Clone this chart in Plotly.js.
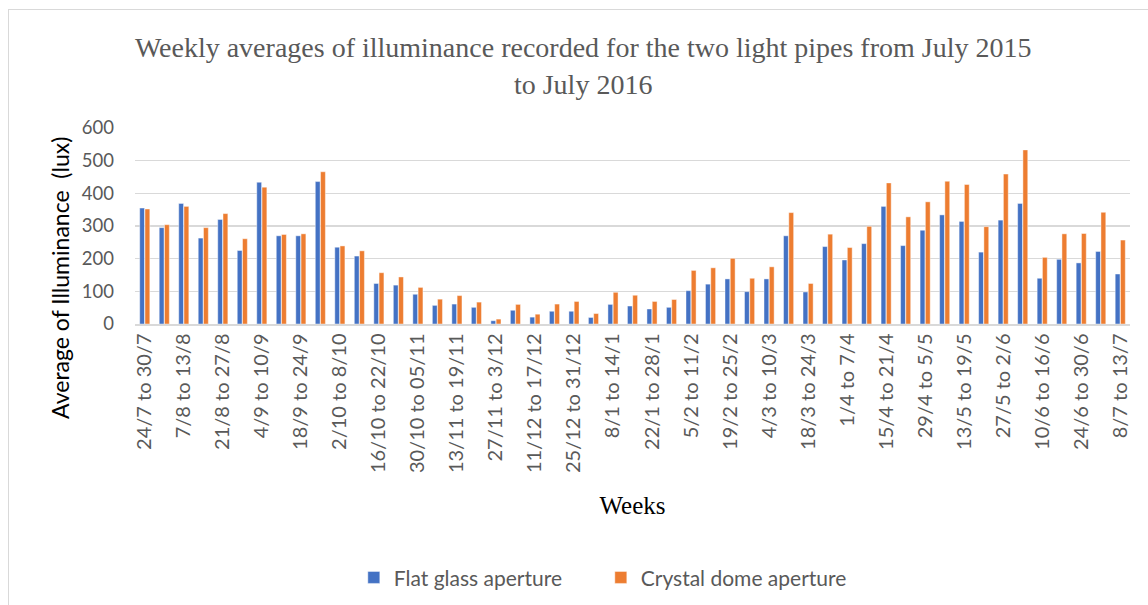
<!DOCTYPE html>
<html>
<head>
<meta charset="utf-8">
<script src="https://cdn.plot.ly/plotly-3.0.1.min.js"></script>
<style>
  html, body { margin: 0; padding: 0; background: #ffffff; overflow: hidden; }
  #wrap { position: relative; width: 1148px; height: 605px; overflow: hidden; }
  #chart { position: absolute; left: 0; top: 0; width: 1148px; height: 605px; }
  #frame { position: absolute; left: 8px; top: 9px; width: 1200px; height: 700px;
           border: 1px solid #d9d9d9; pointer-events: none; }
</style>
</head>
<body>
<div id="wrap">
  <div id="chart"></div>
  <div id="frame"></div>
</div>
<script>
// Week categories (51 weeks, July 2015 - July 2016)
const weeks = [
  "24/7 to 30/7", "31/7 to 6/8", "7/8 to 13/8", "14/8 to 20/8", "21/8 to 27/8",
  "28/8 to 3/9", "4/9 to 10/9", "11/9 to 17/9", "18/9 to 24/9", "25/9 to 1/10",
  "2/10 to 8/10", "9/10 to 15/10", "16/10 to 22/10", "23/10 to 29/10", "30/10 to 05/11",
  "6/11 to 12/11", "13/11 to 19/11", "20/11 to 26/11", "27/11 to 3/12", "4/12 to 10/12",
  "11/12 to 17/12", "18/12 to 24/12", "25/12 to 31/12", "1/1 to 7/1", "8/1 to 14/1",
  "15/1 to 21/1", "22/1 to 28/1", "29/1 to 4/2", "5/2 to 11/2", "12/2 to 18/2",
  "19/2 to 25/2", "26/2 to 3/3", "4/3 to 10/3", "11/3 to 17/3", "18/3 to 24/3",
  "25/3 to 31/3", "1/4 to 7/4", "8/4 to 14/4", "15/4 to 21/4", "22/4 to 28/4",
  "29/4 to 5/5", "6/5 to 12/5", "13/5 to 19/5", "20/5 to 26/5", "27/5 to 2/6",
  "3/6 to 9/6", "10/6 to 16/6", "17/6 to 23/6", "24/6 to 30/6", "1/7 to 7/7",
  "8/7 to 13/7"
];

// Flat glass aperture weekly averages (lux)
const flatGlass = [
  355, 295, 369, 263, 320, 225, 434, 270, 270, 436,
  235, 208, 124, 119, 91, 57, 61, 51, 10, 42,
  21, 39, 39, 20, 60, 55, 46, 51, 102, 122,
  138, 99, 138, 270, 98, 237, 196, 246, 360, 240,
  287, 334, 314, 220, 318, 369, 140, 198, 187, 222,
  153
];

// Crystal dome aperture weekly averages (lux)
const crystalDome = [
  352, 304, 360, 295, 338, 261, 419, 274, 276, 466,
  239, 224, 157, 144, 112, 76, 87, 67, 15, 60,
  30, 61, 69, 32, 97, 88, 69, 75, 164, 172,
  201, 140, 175, 341, 124, 275, 234, 299, 432, 328,
  374, 437, 427, 298, 459, 533, 204, 276, 277, 342,
  257
];

// Shown tick labels: every other week
const shownWeeks = weeks.filter((w, i) => i % 2 === 0);

const yTitle = "Average of Illuminance  (lux)";

const sansFont = "Lato, 'Open Sans', 'Liberation Sans', sans-serif";
const serifFont = "'Liberation Serif', 'DejaVu Serif', serif";

const traces = [
  {
    type: "bar",
    name: "Flat glass aperture",
    x: weeks,
    y: flatGlass,
    marker: { color: "#4472C4", line: { color: "rgba(255,255,255,0.55)", width: 0.8 } }
  },
  {
    type: "bar",
    name: "Crystal dome aperture",
    x: weeks,
    y: crystalDome,
    marker: { color: "#ED7D31", line: { color: "rgba(255,255,255,0.55)", width: 0.8 } }
  }
];

const layout = {
  width: 1148,
  height: 605,
  margin: { l: 135, r: 18, t: 128, b: 281 },
  paper_bgcolor: "#ffffff",
  plot_bgcolor: "#ffffff",
  barmode: "group",
  bargap: 0.46,
  bargroupgap: 0.08,
  showlegend: true,
  title: {
    text: "Weekly averages of illuminance recorded for the two light pipes from July 2015<br>to July 2016",
    font: { family: serifFont, size: 28, color: "#595959" },
    xref: "container",
    x: 0.508,
    xanchor: "center",
    yref: "container",
    y: 0.905,
    yanchor: "top"
  },
  xaxis: {
    type: "category",
    tickmode: "array",
    tickvals: shownWeeks,
    ticktext: shownWeeks,
    tickangle: -90,
    tickfont: { family: sansFont, size: 20, color: "#595959" },
    ticks: "",
    showgrid: false,
    showline: true,
    linecolor: "#d9d9d9",
    linewidth: 1.5,
    zeroline: false,
    automargin: false,
    title: {
      text: "Weeks",
      font: { family: serifFont, size: 25, color: "#000000" },
      standoff: 24
    }
  },
  yaxis: {
    range: [0, 600],
    dtick: 100,
    tick0: 0,
    tickfont: { family: sansFont, size: 18.5, color: "#595959" },
    showgrid: true,
    gridcolor: "#d9d9d9",
    gridwidth: 1.5,
    zeroline: false,
    showline: false,
    ticks: "",
    ticklabelstandoff: 20,
    automargin: false
  },
  annotations: [
    {
      text: yTitle,
      textangle: -90,
      xref: "paper",
      yref: "paper",
      x: -0.0754,
      y: 0.235,
      xanchor: "center",
      yanchor: "middle",
      showarrow: false,
      font: { family: sansFont, size: 23, color: "#000000" }
    }
  ],
  legend: {
    orientation: "h",
    xref: "container",
    yref: "container",
    x: 0.3082,
    xanchor: "left",
    y: 0.045,
    yanchor: "middle",
    font: { family: sansFont, size: 21, color: "#595959" },
    itemwidth: 30,
    entrywidth: 202,
    entrywidthmode: "pixels",
    traceorder: "normal"
  }
};

Plotly.newPlot("chart", traces, layout, { displayModeBar: false, staticPlot: true });
</script>
</body>
</html>
